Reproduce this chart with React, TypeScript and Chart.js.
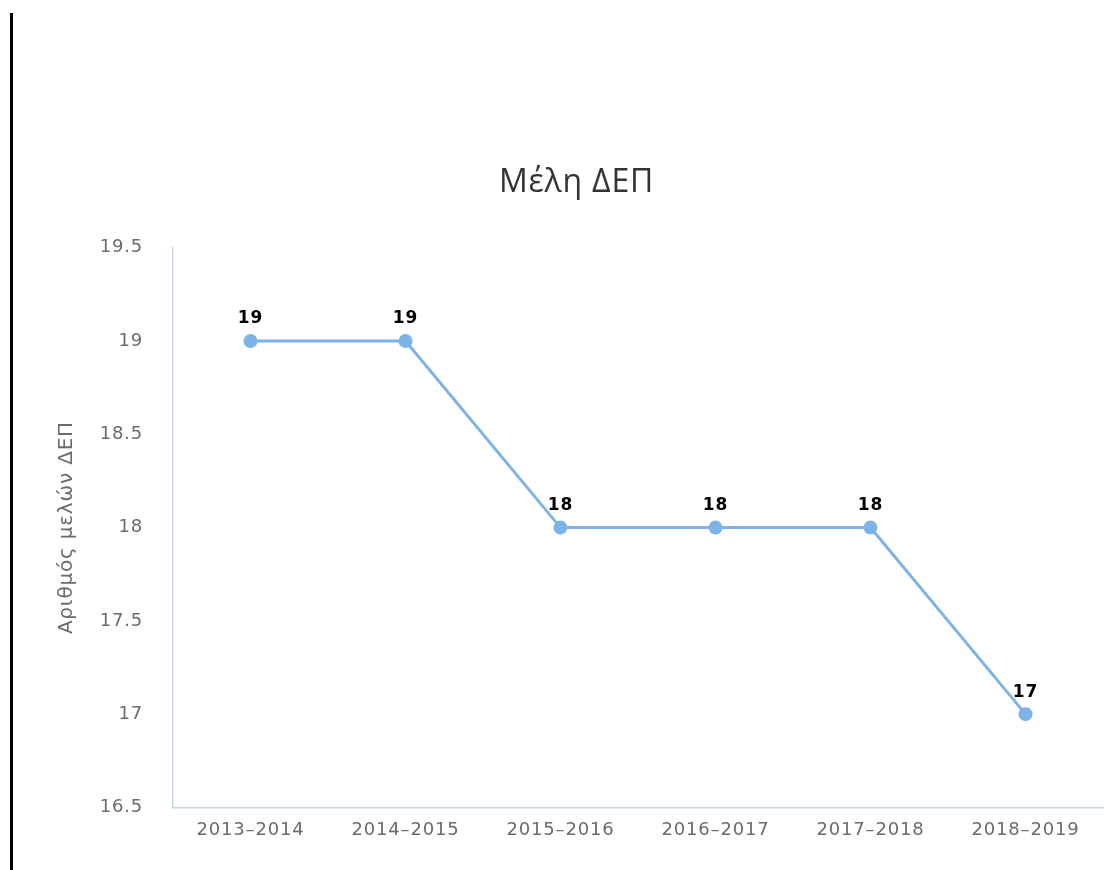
import React, { useEffect, useRef } from "react";
import { Chart, registerables } from "chart.js";

Chart.register(...registerables);

const categories = ["2013–2014", "2014–2015", "2015–2016", "2016–2017", "2017–2018", "2018–2019"];
const members = [19, 19, 18, 18, 18, 17];
const chartTitle = "Μέλη ΔΕΠ";
const yAxisTitle = "Αριθμός μελών ΔΕΠ";
const yMin = 16.5;
const yMax = 19.5;
const yStep = 0.5;

const lineColor = "#7DB3E6";
const axisColor = "#C9D5E2";
const tickColor = "#6b6b6b";

const spacing = {
  id: "spacing",
  beforeDraw(chart: any) {
    chart.ctx.save();
    chart.ctx.letterSpacing = "0.8px";
  },
  afterDraw(chart: any) {
    chart.ctx.restore();
  },
};

const dataLabels = {
  id: "dataLabels",
  afterDatasetsDraw(chart: any) {
    const { ctx } = chart;
    const meta = chart.getDatasetMeta(0);
    ctx.save();
    ctx.font = "bold 17px 'DejaVu Sans'";
    ctx.fillStyle = "#000";
    ctx.textAlign = "center";
    ctx.textBaseline = "middle";
    meta.data.forEach((pt: any, i: number) => {
      ctx.fillText(String(chart.data.datasets[0].data[i]), pt.x, pt.y - 22);
    });
    ctx.restore();
  },
};

export default function App() {
  const ref = useRef<HTMLCanvasElement | null>(null);
  useEffect(() => {
    if (!ref.current) return;
    const chart = new Chart(ref.current, {
      type: "line",
      data: {
        labels: categories,
        datasets: [
          {
            data: members,
            borderColor: lineColor,
            backgroundColor: lineColor,
            borderWidth: 3,
            pointRadius: 7,
            pointHoverRadius: 7,
            pointBackgroundColor: lineColor,
            pointBorderWidth: 0,
            tension: 0,
          },
        ],
      },
      options: {
        animation: false,
        responsive: false,
        maintainAspectRatio: false,
        layout: { padding: { left: 50, right: 8, top: 0, bottom: 17 } },
        plugins: {
          legend: { display: false },
          tooltip: { enabled: false },
          title: {
            display: true,
            text: chartTitle,
            color: "#333",
            font: { family: "'Open Sans'", size: 32, weight: "normal" },
            padding: { top: 164, bottom: 45.4 },
          },
        },
        scales: {
          x: {
            offset: true,
            grid: { display: false, drawTicks: false },
            border: { display: true, color: axisColor, width: 1.5 },
            ticks: {
              color: tickColor,
              padding: 12,
              maxRotation: 0,
              font: { family: "'DejaVu Sans'", size: 18 },
            },
          },
          y: {
            min: yMin,
            max: yMax,
            afterFit: (scale: any) => {
              scale.width = 123;
            },
            grid: { display: false, drawTicks: false },
            border: { display: true, color: axisColor, width: 1.5 },
            ticks: {
              stepSize: yStep,
              color: tickColor,
              padding: 30,
              font: { family: "'DejaVu Sans'", size: 18 },
              callback: (v: any) => String(Number(v)),
            },
            title: {
              display: true,
              text: yAxisTitle,
              color: tickColor,
              padding: { top: 5, bottom: 0 },
              font: { family: "'DejaVu Sans'", size: 20 },
            },
          },
        },
      },
      plugins: [spacing, dataLabels],
    });
    return () => chart.destroy();
  }, []);
  return (
    <div style={{ position: "absolute", left: 0, top: 0, width: 1111, height: 870, overflow: "hidden", background: "#fff" }}>
      <div style={{ position: "absolute", left: 10, top: 13, width: 3, height: 857, background: "#000" }} />
      <canvas ref={ref} width={1111} height={870} style={{ position: "absolute", left: 0, top: 0 }} />
    </div>
  );
}
